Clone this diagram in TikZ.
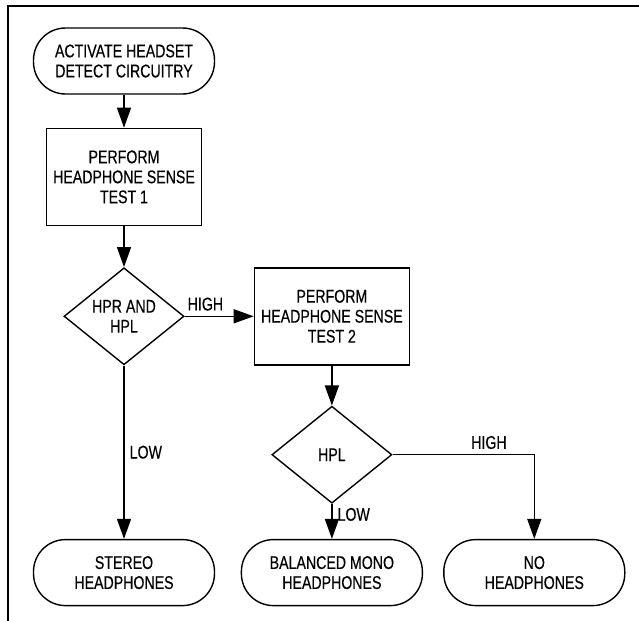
\documentclass[tikz,border=0pt]{standalone}
\usepackage{fontspec}
\setmainfont{Liberation Sans}[FakeStretch=0.77,FakeBold=0.4]
\usetikzlibrary{shapes.geometric,arrows.meta,positioning}
\tikzset{
  term/.style  ={rectangle, rounded corners=16pt, draw, line width=0.7pt,
                 minimum width=90.5pt, minimum height=33pt, inner sep=0pt,
                 align=center, font=\fontsize{9.2}{10}\selectfont},
  proc/.style  ={rectangle, draw, line width=0.7pt,
                 minimum width=77.5pt, minimum height=48.5pt, inner sep=0pt,
                 align=center, font=\fontsize{9.2}{10}\selectfont},
  dec/.style   ={diamond, aspect=1.24, draw, line width=0.7pt,
                 minimum width=60pt, minimum height=48.5pt, inner sep=0pt,
                 align=center, font=\fontsize{9.2}{10}\selectfont},
  lbl/.style   ={font=\fontsize{9.2}{10}\selectfont, inner sep=2.5pt},
  ar/.style    ={-{Triangle[length=10pt,width=7pt]}, line width=0.7pt}
}
\begin{document}
\begin{tikzpicture}
\useasboundingbox (0,0) rectangle (319.5pt,-310.5pt);
\draw[line width=1.2pt] (4pt,-310.5pt) -- (4pt,-3pt) -- (319.5pt,-3pt);
\node[term] (start) at (62pt,-30.5pt) {ACTIVATE HEADSET\\DETECT CIRCUITRY};
\node[proc, below=16.5pt of start] (test1) {PERFORM\\HEADPHONE SENSE\\TEST 1};
\node[dec, below=20.5pt of test1] (both) {HPR AND\\HPL};
\node[proc, right=34.5pt of both] (test2) {PERFORM\\HEADPHONE SENSE\\TEST 2};
\node[dec, below=20pt of test2] (left) {HPL};
\node[term, below=17.5pt of left] (mono) {BALANCED MONO\\HEADPHONES};
\node[term, right=10pt of mono] (none) {NO\\HEADPHONES};
\node[term] (stereo) at (both |- mono) {STEREO\\HEADPHONES};
\draw[ar] (start) -- (test1);
\draw[ar] (test1) -- (both);
\draw[ar] (both.east) -- node[lbl, pos=0.3, above] {HIGH} (test2.west);
\draw[ar] (both.south) -- node[lbl, right] {LOW} (stereo.north);
\draw[ar] (test2) -- (left);
\draw[ar] (left.south) -- node[lbl, pos=0.3, right] {LOW} (mono.north);
\draw[ar] (left.east) -| node[lbl, pos=0.34, above] {HIGH} (none.north);
\end{tikzpicture}
\end{document}
